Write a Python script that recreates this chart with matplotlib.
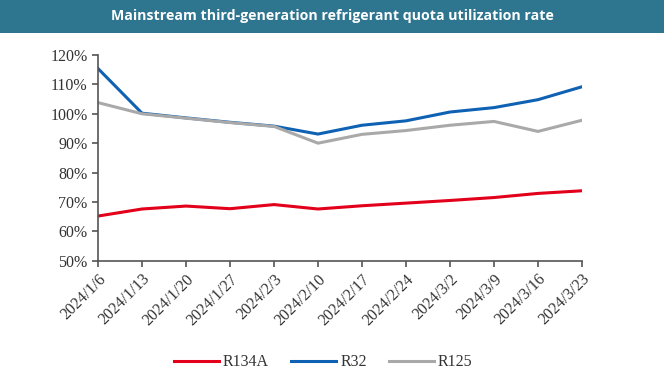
import matplotlib.pyplot as plt
import matplotlib.patches as patches
import matplotlib.ticker as mticker

# Data (percent)
dates = ['2024/1/6', '2024/1/13', '2024/1/20', '2024/1/27', '2024/2/3', '2024/2/10',
         '2024/2/17', '2024/2/24', '2024/3/2', '2024/3/9', '2024/3/16', '2024/3/23']
r134a = [65.2, 67.6, 68.6, 67.7, 69.1, 67.6, 68.7, 69.6, 70.5, 71.5, 72.9, 73.8]
r32 = [115.4, 100.2, 98.6, 97.1, 95.8, 93.1, 96.1, 97.6, 100.6, 102.1, 104.8, 109.2]
r125 = [103.8, 100.0, 98.5, 97.0, 95.7, 90.0, 93.0, 94.3, 96.1, 97.4, 94.0, 97.8]

fig = plt.figure(figsize=(6.64, 3.82), dpi=100)

# Title banner
fig.patches.append(patches.Rectangle((0, 0.913), 1, 0.087, transform=fig.transFigure,
                                     facecolor='#2e7590', edgecolor='none'))
fig.text(0.5, 0.957, 'Mainstream third-generation refrigerant quota utilization rate',
         ha='center', va='center', color='white', fontsize=10.2, fontweight='bold',
         family='Open Sans')

ax = fig.add_axes([0.1476, 0.3175, 0.7289, 0.5385])
x = range(len(dates))
ax.plot(x, r134a, color='#e3001b', linewidth=2.2, label='R134A')
ax.plot(x, r32, color='#0f62b3', linewidth=2.2, label='R32')
ax.plot(x, r125, color='#a9a9a9', linewidth=2.2, label='R125')

ax.set_xlim(0, len(dates) - 1)
ax.set_ylim(50, 120)
ax.yaxis.set_major_locator(mticker.MultipleLocator(10))
ax.yaxis.set_major_formatter(mticker.FuncFormatter(lambda v, p: f'{v:.0f}%'))
ax.set_xticks(list(x))
ax.set_xticklabels(dates, rotation=45, ha='right', rotation_mode='anchor')

for s in ['top', 'right']:
    ax.spines[s].set_visible(False)
for s in ['left', 'bottom']:
    ax.spines[s].set_color('#555555')
    ax.spines[s].set_linewidth(1.2)
ax.tick_params(axis='both', direction='out', length=4, width=1.2, color='#555555',
               labelsize=11.5, labelcolor='#333333')
for lbl in ax.get_xticklabels() + ax.get_yticklabels():
    lbl.set_family('Liberation Serif')

leg = fig.legend(loc='center', bbox_to_anchor=(0.487, 0.052), ncol=3, frameon=False,
                 handlelength=2.8, columnspacing=1.4, handletextpad=0.25,
                 prop={'family': 'Liberation Serif', 'size': 11.5})
for t in leg.get_texts():
    t.set_color('#333333')

fig.savefig('out.png', dpi=100)
